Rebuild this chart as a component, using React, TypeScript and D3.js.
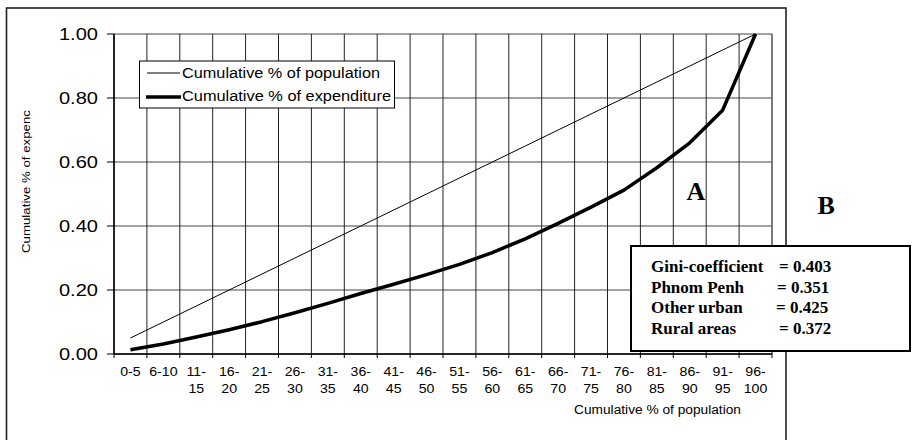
import React from 'react';
import * as d3 from 'd3';

// population groups (cumulative %)
const categories = [
  '0-5', '6-10', '11-15', '16-20', '21-25', '26-30', '31-35', '36-40', '41-45', '46-50',
  '51-55', '56-60', '61-65', '66-70', '71-75', '76-80', '81-85', '86-90', '91-95', '96-100',
];
const population = [
  0.05, 0.10, 0.15, 0.20, 0.25, 0.30, 0.35, 0.40, 0.45, 0.50,
  0.55, 0.60, 0.65, 0.70, 0.75, 0.80, 0.85, 0.90, 0.95, 1.00,
];
const expenditure = [
  0.013, 0.031, 0.053, 0.076, 0.101, 0.129, 0.158, 0.189, 0.218, 0.248,
  0.28, 0.317, 0.36, 0.408, 0.459, 0.512, 0.582, 0.66, 0.762, 1.0,
];
const yTicks = [0, 0.2, 0.4, 0.6, 0.8, 1.0];
const giniLabels = ['Gini-coefficient', 'Phnom Penh', 'Other urban', 'Rural areas'];
const giniValues = ['0.403', '0.351', '0.425', '0.372'];

const SANS = '"Liberation Sans", Arial, sans-serif';
const SERIF = '"Liberation Serif", "Times New Roman", serif';
const SX = 1.18; // the original Excel text looks stretched sideways

const App: React.FC = () => {
  const width = 913;
  const height = 440;
  const plot = { left: 114, right: 772, top: 34, bottom: 354 };

  const x = d3.scaleBand<string>().domain(categories).range([plot.left, plot.right]).padding(0);
  const y = d3.scaleLinear().domain([0, 1]).range([plot.bottom, plot.top]);
  const cx = (c: string) => (x(c) ?? 0) + x.bandwidth() / 2;

  const line = d3
    .line<number>()
    .x((_, i) => cx(categories[i]))
    .y((d) => y(d));

  const boundaries = [...categories.map((c) => x(c) ?? 0), plot.right];

  const splitLabel = (c: string) => {
    if (c.length <= 4) return [c];
    const k = c.indexOf('-');
    return [c.slice(0, k + 1), c.slice(k + 1)];
  };

  return (
    <svg
      width={width}
      height={height}
      style={{ position: 'absolute', left: 0, top: 0, background: '#fff' }}
    >
      {/* outer chart frame */}
      <rect x={6.5} y={8} width={779.5} height={450} fill="#fff" stroke="#222" strokeWidth={1.6} />

      {/* horizontal grid */}
      {yTicks.map((t) => (
        <line key={'h' + t} x1={plot.left} x2={plot.right} y1={y(t)} y2={y(t)} stroke="#444" strokeWidth={1} />
      ))}
      {/* vertical grid */}
      {boundaries.map((b, i) => (
        <line key={'v' + i} x1={b} x2={b} y1={plot.top} y2={plot.bottom} stroke="#222" strokeWidth={1} />
      ))}
      <line x1={plot.right} x2={plot.right} y1={plot.top} y2={plot.bottom} stroke="#666" strokeWidth={1} />

      {/* axes */}
      <line x1={plot.left} x2={plot.left} y1={plot.top} y2={plot.bottom} stroke="#000" strokeWidth={1.5} />
      <line x1={plot.left} x2={plot.right} y1={plot.bottom} y2={plot.bottom} stroke="#000" strokeWidth={1.5} />
      {yTicks.map((t) => (
        <g key={'yt' + t}>
          <line x1={plot.left - 7} x2={plot.left} y1={y(t)} y2={y(t)} stroke="#000" strokeWidth={1} />
          <text
            transform={`translate(98,${y(t) + 6}) scale(${SX},1)`}
            textAnchor="end"
            fontFamily={SANS}
            fontSize={17}
            fill="#000"
          >
            {t.toFixed(2)}
          </text>
        </g>
      ))}
      {boundaries.map((b, i) => (
        <line key={'xt' + i} x1={b} x2={b} y1={plot.bottom} y2={plot.bottom + 4} stroke="#000" strokeWidth={1} />
      ))}
      {categories.map((c) =>
        splitLabel(c).map((part, j) => (
          <text
            key={c + j}
            transform={`translate(${cx(c)},${376 + j * 16.7}) scale(${SX},1)`}
            textAnchor="middle"
            fontFamily={SANS}
            fontSize={12}
            fill="#000"
          >
            {part}
          </text>
        ))
      )}

      {/* axis titles */}
      <text x={574} y={414} fontFamily={SANS} fontSize={12} textLength={167} lengthAdjust="spacingAndGlyphs">
        Cumulative % of population
      </text>
      <text
        transform="translate(30,253) rotate(-90)"
        fontFamily={SANS}
        fontSize={11}
        textLength={143}
        lengthAdjust="spacingAndGlyphs"
      >
        Cumulative % of expenc
      </text>

      {/* series */}
      <path d={line(population) ?? ''} fill="none" stroke="#000" strokeWidth={1} />
      <path d={line(expenditure) ?? ''} fill="none" stroke="#000" strokeWidth={3.5} strokeLinejoin="round" />

      {/* legend */}
      <rect x={139.5} y={61} width={255} height={47} fill="#fff" stroke="#000" strokeWidth={1} />
      <line x1={147} x2={180} y1={73} y2={73} stroke="#000" strokeWidth={1} />
      <line x1={146} x2={181} y1={97} y2={97} stroke="#000" strokeWidth={3.5} />
      <text x={182} y={77.5} fontFamily={SANS} fontSize={14} textLength={198} lengthAdjust="spacingAndGlyphs">
        Cumulative % of population
      </text>
      <text x={182} y={101} fontFamily={SANS} fontSize={14} textLength={209} lengthAdjust="spacingAndGlyphs">
        Cumulative % of expenditure
      </text>

      {/* region labels */}
      <text x={686.5} y={200} fontFamily={SERIF} fontWeight="bold" fontSize={26}>A</text>
      <text x={817.5} y={214} fontFamily={SERIF} fontWeight="bold" fontSize={26}>B</text>

      {/* gini box */}
      <rect x={631} y={246} width={279} height={105} fill="#fff" stroke="#000" strokeWidth={2} />
      {giniLabels.map((l, i) => (
        <g key={l} fontFamily={SERIF} fontWeight="bold" fontSize={17} fill="#000">
          <text x={651} y={271.7 + i * 20.8}>{l}</text>
          <text x={[779, 777, 776, 779][i]} y={271.7 + i * 20.8}>{'= ' + giniValues[i]}</text>
        </g>
      ))}
    </svg>
  );
};

export default App;
